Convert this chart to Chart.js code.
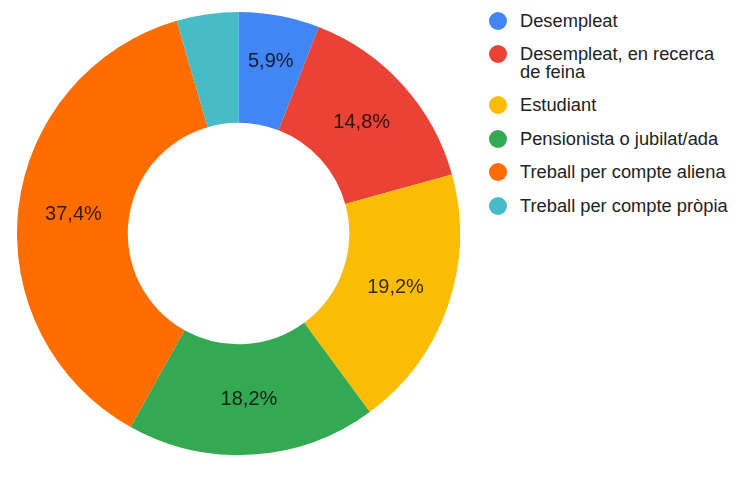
<!DOCTYPE html>
<html>
<head>
<meta charset="utf-8">
<script src="https://cdn.jsdelivr.net/npm/chart.js@4.4.1/dist/chart.umd.min.js"></script>
<style>
  html, body { margin: 0; padding: 0; background: #ffffff; }
  body { width: 747px; height: 481px; position: relative; overflow: hidden; font-family: "Liberation Sans", Arial, sans-serif; }
  #wrap { position: absolute; left: 17px; top: 11.5px; width: 443px; height: 443px; }
  #legend { position: absolute; left: 489px; top: 11.7px; list-style: none; margin: 0; padding: 0; }
  #legend li { position: relative; padding-left: 31px; width: 213px; font-size: 18.3px; line-height: 18px; color: #222222; margin-bottom: 15.4px; }
  #legend li span.dot { position: absolute; left: 0; top: 0; width: 18px; height: 18px; border-radius: 50%; }
</style>
</head>
<body>
<div id="wrap"><canvas id="c"></canvas></div>
<ul id="legend"></ul>
<script>
const categories = [
  "Desempleat",
  "Desempleat, en recerca de feina",
  "Estudiant",
  "Pensionista o jubilat/ada",
  "Treball per compte aliena",
  "Treball per compte pròpia"
];
const percentages = [5.9, 14.8, 19.2, 18.2, 37.4, 4.5];
const sliceColors = ["#4285f4", "#ea4335", "#fbbc04", "#34a853", "#ff6d01", "#46bdc6"];

// HTML legend built from the data arrays
const legendEl = document.getElementById('legend');
categories.forEach((name, i) => {
  const li = document.createElement('li');
  const dot = document.createElement('span');
  dot.className = 'dot';
  dot.style.background = sliceColors[i];
  li.appendChild(dot);
  li.appendChild(document.createTextNode(name));
  legendEl.appendChild(li);
});

const sliceLabels = {
  id: 'sliceLabels',
  afterDatasetsDraw(chart) {
    const ctx = chart.ctx;
    const ds = chart.data.datasets[0];
    const total = ds.data.reduce((a, b) => a + b, 0);
    const meta = chart.getDatasetMeta(0);
    ctx.save();
    ctx.font = '20px "Liberation Sans", Arial, sans-serif';
    ctx.fillStyle = 'rgba(0,0,0,0.78)';
    ctx.textAlign = 'center';
    ctx.textBaseline = 'middle';
    meta.data.forEach((arc, i) => {
      const v = ds.data[i];
      const pct = v / total * 100;
      if (pct < 5) return;
      const p = arc.getProps(['x', 'y', 'startAngle', 'endAngle', 'innerRadius', 'outerRadius'], true);
      const mid = (p.startAngle + p.endAngle) / 2;
      // narrow slices: push the label outward where the wedge is wider
      const frac = pct < 8 ? 0.58 : 0.5;
      const r = p.innerRadius + (p.outerRadius - p.innerRadius) * frac;
      const x = p.x + Math.cos(mid) * r;
      const y = p.y + Math.sin(mid) * r;
      ctx.fillText(pct.toFixed(1).replace('.', ',') + '%', x, y);
    });
    ctx.restore();
  }
};

new Chart(document.getElementById('c'), {
  type: 'doughnut',
  data: {
    labels: categories,
    datasets: [{
      data: percentages,
      backgroundColor: sliceColors,
      borderWidth: 0,
      hoverOffset: 0
    }]
  },
  options: {
    responsive: true,
    maintainAspectRatio: false,
    animation: false,
    cutout: '50%',
    layout: { padding: 0 },
    plugins: {
      legend: { display: false },
      tooltip: { enabled: false }
    }
  },
  plugins: [sliceLabels]
});
</script>
</body>
</html>
